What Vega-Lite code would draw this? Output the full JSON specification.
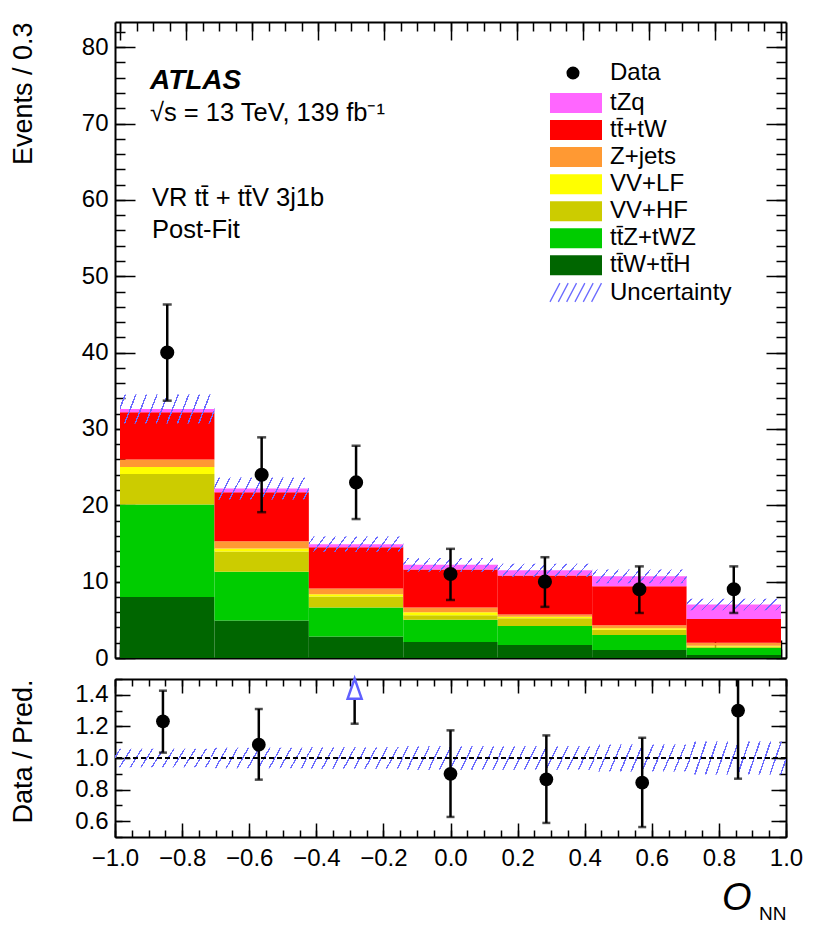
{
  "$schema": "https://vega.github.io/schema/vega-lite/v6.json",
  "padding": {"left": 8, "top": 21, "right": 10, "bottom": 5},
  "spacing": 3,
  "title": {
    "text": ["VR tt̄ + tt̄V 3j1b", "Post-Fit"],
    "anchor": "start", "frame": "group", "orient": "top", "offset": -222.35, "dx": 37,
    "font": "Liberation Sans", "fontSize": 25.5, "fontWeight": "normal", "fontStyle": "normal", "color": "black", "lineHeight": 32
  },
  "config": {
    "font": "Liberation Sans",
    "view": {"stroke": null},
    "axis": {
      "grid": false, "labelColor": "black", "titleColor": "black", "tickColor": "black",
      "domainColor": "black", "domainWidth": 2, "tickWidth": 1.5, "labelFont": "Liberation Sans",
      "titleFont": "Liberation Sans", "titleFontWeight": "normal", "zindex": 1,
      "labelFlush": false, "labelOverlap": false
    }
  },
  "datasets": {
    "stack": [
      {"lo": -1, "hi": -0.7143, "process": "tt̄W+tt̄H", "k": 0, "n": 8.0},
      {"lo": -1, "hi": -0.7143, "process": "tt̄Z+tWZ", "k": 1, "n": 12.1},
      {"lo": -1, "hi": -0.7143, "process": "VV+HF", "k": 2, "n": 4.0},
      {"lo": -1, "hi": -0.7143, "process": "VV+LF", "k": 3, "n": 0.9},
      {"lo": -1, "hi": -0.7143, "process": "Z+jets", "k": 4, "n": 1.0},
      {"lo": -1, "hi": -0.7143, "process": "tt̄+tW", "k": 5, "n": 6.2},
      {"lo": -1, "hi": -0.7143, "process": "tZq", "k": 6, "n": 0.4},
      {"lo": -0.7143, "hi": -0.4286, "process": "tt̄W+tt̄H", "k": 0, "n": 4.9},
      {"lo": -0.7143, "hi": -0.4286, "process": "tt̄Z+tWZ", "k": 1, "n": 6.4},
      {"lo": -0.7143, "hi": -0.4286, "process": "VV+HF", "k": 2, "n": 2.65},
      {"lo": -0.7143, "hi": -0.4286, "process": "VV+LF", "k": 3, "n": 0.4},
      {"lo": -0.7143, "hi": -0.4286, "process": "Z+jets", "k": 4, "n": 0.95},
      {"lo": -0.7143, "hi": -0.4286, "process": "tt̄+tW", "k": 5, "n": 6.4},
      {"lo": -0.7143, "hi": -0.4286, "process": "tZq", "k": 6, "n": 0.5},
      {"lo": -0.4286, "hi": -0.1429, "process": "tt̄W+tt̄H", "k": 0, "n": 2.8},
      {"lo": -0.4286, "hi": -0.1429, "process": "tt̄Z+tWZ", "k": 1, "n": 3.8},
      {"lo": -0.4286, "hi": -0.1429, "process": "VV+HF", "k": 2, "n": 1.45},
      {"lo": -0.4286, "hi": -0.1429, "process": "VV+LF", "k": 3, "n": 0.3},
      {"lo": -0.4286, "hi": -0.1429, "process": "Z+jets", "k": 4, "n": 0.75},
      {"lo": -0.4286, "hi": -0.1429, "process": "tt̄+tW", "k": 5, "n": 5.4},
      {"lo": -0.4286, "hi": -0.1429, "process": "tZq", "k": 6, "n": 0.4},
      {"lo": -0.1429, "hi": 0.1429, "process": "tt̄W+tt̄H", "k": 0, "n": 2.1},
      {"lo": -0.1429, "hi": 0.1429, "process": "tt̄Z+tWZ", "k": 1, "n": 2.9},
      {"lo": -0.1429, "hi": 0.1429, "process": "VV+HF", "k": 2, "n": 0.6},
      {"lo": -0.1429, "hi": 0.1429, "process": "VV+LF", "k": 3, "n": 0.4},
      {"lo": -0.1429, "hi": 0.1429, "process": "Z+jets", "k": 4, "n": 0.6},
      {"lo": -0.1429, "hi": 0.1429, "process": "tt̄+tW", "k": 5, "n": 5.0},
      {"lo": -0.1429, "hi": 0.1429, "process": "tZq", "k": 6, "n": 0.6},
      {"lo": 0.1429, "hi": 0.4286, "process": "tt̄W+tt̄H", "k": 0, "n": 1.7},
      {"lo": 0.1429, "hi": 0.4286, "process": "tt̄Z+tWZ", "k": 1, "n": 2.5},
      {"lo": 0.1429, "hi": 0.4286, "process": "VV+HF", "k": 2, "n": 1.0},
      {"lo": 0.1429, "hi": 0.4286, "process": "VV+LF", "k": 3, "n": 0.2},
      {"lo": 0.1429, "hi": 0.4286, "process": "Z+jets", "k": 4, "n": 0.3},
      {"lo": 0.1429, "hi": 0.4286, "process": "tt̄+tW", "k": 5, "n": 5.1},
      {"lo": 0.1429, "hi": 0.4286, "process": "tZq", "k": 6, "n": 0.7},
      {"lo": 0.4286, "hi": 0.7143, "process": "tt̄W+tt̄H", "k": 0, "n": 1.05},
      {"lo": 0.4286, "hi": 0.7143, "process": "tt̄Z+tWZ", "k": 1, "n": 1.95},
      {"lo": 0.4286, "hi": 0.7143, "process": "VV+HF", "k": 2, "n": 0.7},
      {"lo": 0.4286, "hi": 0.7143, "process": "VV+LF", "k": 3, "n": 0.2},
      {"lo": 0.4286, "hi": 0.7143, "process": "Z+jets", "k": 4, "n": 0.4},
      {"lo": 0.4286, "hi": 0.7143, "process": "tt̄+tW", "k": 5, "n": 5.1},
      {"lo": 0.4286, "hi": 0.7143, "process": "tZq", "k": 6, "n": 1.3},
      {"lo": 0.7143, "hi": 1, "process": "tt̄W+tt̄H", "k": 0, "n": 0.4},
      {"lo": 0.7143, "hi": 1, "process": "tt̄Z+tWZ", "k": 1, "n": 0.95},
      {"lo": 0.7143, "hi": 1, "process": "VV+HF", "k": 2, "n": 0.15},
      {"lo": 0.7143, "hi": 1, "process": "VV+LF", "k": 3, "n": 0.1},
      {"lo": 0.7143, "hi": 1, "process": "Z+jets", "k": 4, "n": 0.4},
      {"lo": 0.7143, "hi": 1, "process": "tt̄+tW", "k": 5, "n": 3.1},
      {"lo": 0.7143, "hi": 1, "process": "tZq", "k": 6, "n": 1.9}
    ],
    "bins": [
      {"lo": -1, "hi": -0.7143, "xc": -0.8571, "n": 40, "n_lo": 33.7, "n_hi": 46.3, "down": 30.7, "up": 34.5, "ratio": 1.232, "r_lo": 1.034, "r_hi": 1.426, "b_lo": 0.942, "b_hi": 1.058},
      {"lo": -0.7143, "hi": -0.4286, "xc": -0.5714, "n": 24, "n_lo": 19.1, "n_hi": 28.9, "down": 20.75, "up": 23.65, "ratio": 1.084, "r_lo": 0.863, "r_hi": 1.31, "b_lo": 0.935, "b_hi": 1.065},
      {"lo": -0.4286, "hi": -0.1429, "xc": -0.2857, "n": 23, "n_lo": 18.2, "n_hi": 27.8, "down": 13.9, "up": 15.9, "ratio": 1.544, "r_lo": 1.217, "r_hi": 1.866, "b_lo": 0.932, "b_hi": 1.068},
      {"lo": -0.1429, "hi": 0.1429, "xc": 0, "n": 11, "n_lo": 7.6, "n_hi": 14.3, "down": 11.3, "up": 13.1, "ratio": 0.9, "r_lo": 0.627, "r_hi": 1.175, "b_lo": 0.925, "b_hi": 1.075},
      {"lo": 0.1429, "hi": 0.4286, "xc": 0.2857, "n": 10, "n_lo": 6.7, "n_hi": 13.2, "down": 10.65, "up": 12.35, "ratio": 0.865, "r_lo": 0.589, "r_hi": 1.143, "b_lo": 0.925, "b_hi": 1.075},
      {"lo": 0.4286, "hi": 0.7143, "xc": 0.5714, "n": 9, "n_lo": 5.9, "n_hi": 12.0, "down": 9.8, "up": 11.6, "ratio": 0.844, "r_lo": 0.563, "r_hi": 1.128, "b_lo": 0.915, "b_hi": 1.085},
      {"lo": 0.7143, "hi": 1, "xc": 0.8571, "n": 9, "n_lo": 5.9, "n_hi": 12.0, "down": 6.25, "up": 7.75, "ratio": 1.3, "r_lo": 0.869, "r_hi": 1.72, "b_lo": 0.895, "b_hi": 1.105}
    ]
  },
  "vconcat": [
    {
      "width": 671,
      "height": 636,
      "title": {
        "text": "ATLAS",
        "subtitle": "√s = 13 TeV, 139 fb⁻¹",
        "anchor": "start", "frame": "group", "orient": "top", "offset": -105.5, "dx": 35,
        "font": "Liberation Sans", "fontSize": 28, "fontStyle": "italic", "fontWeight": "bold", "color": "black",
        "subtitleFont": "Liberation Sans", "subtitleFontSize": 25.5, "subtitleColor": "black",
        "subtitlePadding": 6.5
      },
      "layer": [
        {
          "data": {"name": "stack"},
          "mark": {"type": "bar", "orient": "vertical"},
          "encoding": {
            "x": {"field": "lo", "type": "quantitative", "scale": {"domain": [-1, 1], "nice": false},
              "axis": {"orient": "bottom", "title": null, "values": [-1, -0.8, -0.6, -0.4, -0.2, 0, 0.2, 0.4, 0.6, 0.8, 1], "labels": false, "tickSize": -18, "domain": true}},
            "x2": {"field": "hi"},
            "y": {"field": "n", "type": "quantitative", "stack": "zero", "scale": {"domain": [0, 83.3], "nice": false, "zero": false},
              "axis": {"orient": "left", "title": "Events / 0.3", "values": [0, 10, 20, 30, 40, 50, 60, 70, 80], "ticks": false, "domain": true,
                "labelFontSize": 24, "labelPadding": 7, "titleFontSize": 27, "titleAnchor": "end", "titleAlign": "right",
                "titleBaseline": "alphabetic", "titleX": -84, "titleY": 0}},
            "color": {"field": "process", "type": "nominal",
              "scale": {"domain": ["tZq", "tt̄+tW", "Z+jets", "VV+LF", "VV+HF", "tt̄Z+tWZ", "tt̄W+tt̄H"],
                "range": ["#ff66ff", "#ff0000", "#ff9933", "#ffff00", "#cccc00", "#00cc00", "#006600"]},
              "legend": {"orient": "none", "legendX": 447.5, "legendY": 67.5, "title": null,
                "symbolType": "M-1.926,-0.741H1.926V0.741H-1.926Z", "symbolSize": 729, "symbolStrokeWidth": 0, "symbolOpacity": 1,
                "labelFont": "Liberation Sans", "labelFontSize": 24, "labelColor": "black", "labelOffset": 20.5,
                "rowPadding": 1.05, "padding": 0, "labelLimit": 400}},
            "order": {"field": "k", "type": "quantitative"}
          }
        },
        {
          "data": {"name": "bins"},
          "mark": {"type": "rect", "strokeWidth": 0, "strokeOpacity": 0,
            "fill": {"gradient": "linear", "x1": 0, "y1": 0, "x2": 1.104, "y2": 0.1325, "stops": [
              {"offset": 0, "color": "rgba(255,255,255,0)"},
              {"offset": 0.043, "color": "rgba(255,255,255,0)"}, {"offset": 0.043, "color": "#6b6bff"}, {"offset": 0.057, "color": "#6b6bff"}, {"offset": 0.057, "color": "rgba(255,255,255,0)"},
              {"offset": 0.143, "color": "rgba(255,255,255,0)"}, {"offset": 0.143, "color": "#6b6bff"}, {"offset": 0.157, "color": "#6b6bff"}, {"offset": 0.157, "color": "rgba(255,255,255,0)"},
              {"offset": 0.243, "color": "rgba(255,255,255,0)"}, {"offset": 0.243, "color": "#6b6bff"}, {"offset": 0.257, "color": "#6b6bff"}, {"offset": 0.257, "color": "rgba(255,255,255,0)"},
              {"offset": 0.343, "color": "rgba(255,255,255,0)"}, {"offset": 0.343, "color": "#6b6bff"}, {"offset": 0.357, "color": "#6b6bff"}, {"offset": 0.357, "color": "rgba(255,255,255,0)"},
              {"offset": 0.443, "color": "rgba(255,255,255,0)"}, {"offset": 0.443, "color": "#6b6bff"}, {"offset": 0.457, "color": "#6b6bff"}, {"offset": 0.457, "color": "rgba(255,255,255,0)"},
              {"offset": 0.543, "color": "rgba(255,255,255,0)"}, {"offset": 0.543, "color": "#6b6bff"}, {"offset": 0.557, "color": "#6b6bff"}, {"offset": 0.557, "color": "rgba(255,255,255,0)"},
              {"offset": 0.643, "color": "rgba(255,255,255,0)"}, {"offset": 0.643, "color": "#6b6bff"}, {"offset": 0.657, "color": "#6b6bff"}, {"offset": 0.657, "color": "rgba(255,255,255,0)"},
              {"offset": 0.743, "color": "rgba(255,255,255,0)"}, {"offset": 0.743, "color": "#6b6bff"}, {"offset": 0.757, "color": "#6b6bff"}, {"offset": 0.757, "color": "rgba(255,255,255,0)"},
              {"offset": 0.843, "color": "rgba(255,255,255,0)"}, {"offset": 0.843, "color": "#6b6bff"}, {"offset": 0.857, "color": "#6b6bff"}, {"offset": 0.857, "color": "rgba(255,255,255,0)"},
              {"offset": 0.943, "color": "rgba(255,255,255,0)"}, {"offset": 0.943, "color": "#6b6bff"}, {"offset": 0.957, "color": "#6b6bff"}, {"offset": 0.957, "color": "rgba(255,255,255,0)"},
              {"offset": 1, "color": "rgba(255,255,255,0)"}
            ]}},
          "encoding": {
            "x": {"field": "lo", "type": "quantitative", "scale": {"domain": [-1, 1], "nice": false},
              "axis": {"orient": "bottom", "title": null, "values": [-1, -0.95, -0.9, -0.85, -0.8, -0.75, -0.7, -0.65, -0.6, -0.55, -0.5, -0.45, -0.4, -0.35, -0.3, -0.25, -0.2, -0.15, -0.1, -0.05, 0, 0.05, 0.1, 0.15, 0.2, 0.25, 0.3, 0.35, 0.4, 0.45, 0.5, 0.55, 0.6, 0.65, 0.7, 0.75, 0.8, 0.85, 0.9, 0.95, 1], "labels": false, "tickSize": -9, "domain": false}},
            "x2": {"field": "hi"},
            "y": {"field": "down", "type": "quantitative", "scale": {"domain": [0, 83.3], "nice": false, "zero": false},
              "axis": {"orient": "left", "title": null, "values": [0, 10, 20, 30, 40, 50, 60, 70, 80], "labels": false, "tickSize": -20, "domain": false}},
            "y2": {"field": "up"},
            "stroke": {"datum": "Uncertainty", "scale": {"range": ["#6b6bff"]},
              "legend": {"orient": "none", "legendX": 446.5, "legendY": 256, "title": null,
                "symbolType": "M-1.926,0.693L-1.194,-0.693M-1.31,0.693L-0.578,-0.693M-0.693,0.693L0.039,-0.693M-0.077,0.693L0.655,-0.693M0.539,0.693L1.271,-0.693M1.156,0.693L1.888,-0.693",
                "symbolSize": 729, "symbolStrokeWidth": 1.3, "symbolStrokeColor": "#6b6bff", "symbolFillColor": "transparent", "symbolOpacity": 1,
                "labelFont": "Liberation Sans", "labelFontSize": 24, "labelColor": "black", "labelOffset": 19.5,
                "padding": 0, "labelLimit": 400}}
          }
        },
        {
          "data": {"name": "bins"},
          "mark": {"type": "rule", "color": "black", "strokeWidth": 2.5},
          "encoding": {
            "x": {"field": "xc", "type": "quantitative", "scale": {"domain": [-1, 1], "nice": false},
              "axis": {"orient": "top", "title": null, "values": [-1, -0.8, -0.6, -0.4, -0.2, 0, 0.2, 0.4, 0.6, 0.8, 1], "labels": false, "tickSize": -18, "domain": true}},
            "y": {"field": "n_lo", "type": "quantitative", "scale": {"domain": [0, 83.3], "nice": false, "zero": false},
              "axis": {"orient": "left", "title": null, "values": [0, 2, 4, 6, 8, 10, 12, 14, 16, 18, 20, 22, 24, 26, 28, 30, 32, 34, 36, 38, 40, 42, 44, 46, 48, 50, 52, 54, 56, 58, 60, 62, 64, 66, 68, 70, 72, 74, 76, 78, 80, 82], "labels": false, "tickSize": -10, "domain": false}},
            "y2": {"field": "n_hi"}
          }
        },
        {
          "data": {"name": "bins"},
          "mark": {"type": "tick", "orient": "horizontal", "color": "black", "size": 9, "thickness": 2.5},
          "encoding": {
            "x": {"field": "xc", "type": "quantitative", "scale": {"domain": [-1, 1], "nice": false},
              "axis": {"orient": "top", "title": null, "values": [-1, -0.95, -0.9, -0.85, -0.8, -0.75, -0.7, -0.65, -0.6, -0.55, -0.5, -0.45, -0.4, -0.35, -0.3, -0.25, -0.2, -0.15, -0.1, -0.05, 0, 0.05, 0.1, 0.15, 0.2, 0.25, 0.3, 0.35, 0.4, 0.45, 0.5, 0.55, 0.6, 0.65, 0.7, 0.75, 0.8, 0.85, 0.9, 0.95, 1], "labels": false, "tickSize": -9, "domain": false}},
            "y": {"field": "n_hi", "type": "quantitative", "scale": {"domain": [0, 83.3], "nice": false, "zero": false},
              "axis": {"orient": "right", "title": null, "values": [0, 10, 20, 30, 40, 50, 60, 70, 80], "labels": false, "tickSize": -20, "domain": true}}
          }
        },
        {
          "data": {"name": "bins"},
          "mark": {"type": "tick", "orient": "horizontal", "color": "black", "size": 9, "thickness": 2.5},
          "encoding": {
            "x": {"field": "xc", "type": "quantitative", "scale": {"domain": [-1, 1], "nice": false}, "axis": null},
            "y": {"field": "n_lo", "type": "quantitative", "scale": {"domain": [0, 83.3], "nice": false, "zero": false},
              "axis": {"orient": "right", "title": null, "values": [0, 2, 4, 6, 8, 10, 12, 14, 16, 18, 20, 22, 24, 26, 28, 30, 32, 34, 36, 38, 40, 42, 44, 46, 48, 50, 52, 54, 56, 58, 60, 62, 64, 66, 68, 70, 72, 74, 76, 78, 80, 82], "labels": false, "tickSize": -10, "domain": false}}
          }
        },
        {
          "data": {"name": "bins"},
          "mark": {"type": "point", "filled": true, "color": "black", "opacity": 1, "size": 200},
          "encoding": {
            "x": {"field": "xc", "type": "quantitative", "scale": {"domain": [-1, 1], "nice": false}, "axis": null},
            "y": {"field": "n", "type": "quantitative", "scale": {"domain": [0, 83.3], "nice": false, "zero": false}, "axis": null},
            "shape": {"datum": "Data", "scale": {"range": ["circle"]},
              "legend": {"orient": "none", "legendX": 446, "legendY": 39, "title": null, "symbolSize": 170,
                "symbolFillColor": "black", "symbolStrokeWidth": 0, "labelFont": "Liberation Sans", "labelFontSize": 24,
                "labelColor": "black", "labelOffset": 25, "padding": 0, "labelLimit": 400}}
          }
        }
      ],
      "resolve": {"axis": {"x": "independent", "y": "independent"}}
    },
    {
      "width": 671,
      "height": 158,
      "data": {"name": "bins"},
      "layer": [
        {
          "mark": {"type": "rect", "strokeWidth": 0,
            "fill": {"gradient": "linear", "x1": 0, "y1": 0, "x2": 1.104, "y2": 0.1325, "stops": [
              {"offset": 0, "color": "rgba(255,255,255,0)"},
              {"offset": 0.043, "color": "rgba(255,255,255,0)"}, {"offset": 0.043, "color": "#6b6bff"}, {"offset": 0.057, "color": "#6b6bff"}, {"offset": 0.057, "color": "rgba(255,255,255,0)"},
              {"offset": 0.143, "color": "rgba(255,255,255,0)"}, {"offset": 0.143, "color": "#6b6bff"}, {"offset": 0.157, "color": "#6b6bff"}, {"offset": 0.157, "color": "rgba(255,255,255,0)"},
              {"offset": 0.243, "color": "rgba(255,255,255,0)"}, {"offset": 0.243, "color": "#6b6bff"}, {"offset": 0.257, "color": "#6b6bff"}, {"offset": 0.257, "color": "rgba(255,255,255,0)"},
              {"offset": 0.343, "color": "rgba(255,255,255,0)"}, {"offset": 0.343, "color": "#6b6bff"}, {"offset": 0.357, "color": "#6b6bff"}, {"offset": 0.357, "color": "rgba(255,255,255,0)"},
              {"offset": 0.443, "color": "rgba(255,255,255,0)"}, {"offset": 0.443, "color": "#6b6bff"}, {"offset": 0.457, "color": "#6b6bff"}, {"offset": 0.457, "color": "rgba(255,255,255,0)"},
              {"offset": 0.543, "color": "rgba(255,255,255,0)"}, {"offset": 0.543, "color": "#6b6bff"}, {"offset": 0.557, "color": "#6b6bff"}, {"offset": 0.557, "color": "rgba(255,255,255,0)"},
              {"offset": 0.643, "color": "rgba(255,255,255,0)"}, {"offset": 0.643, "color": "#6b6bff"}, {"offset": 0.657, "color": "#6b6bff"}, {"offset": 0.657, "color": "rgba(255,255,255,0)"},
              {"offset": 0.743, "color": "rgba(255,255,255,0)"}, {"offset": 0.743, "color": "#6b6bff"}, {"offset": 0.757, "color": "#6b6bff"}, {"offset": 0.757, "color": "rgba(255,255,255,0)"},
              {"offset": 0.843, "color": "rgba(255,255,255,0)"}, {"offset": 0.843, "color": "#6b6bff"}, {"offset": 0.857, "color": "#6b6bff"}, {"offset": 0.857, "color": "rgba(255,255,255,0)"},
              {"offset": 0.943, "color": "rgba(255,255,255,0)"}, {"offset": 0.943, "color": "#6b6bff"}, {"offset": 0.957, "color": "#6b6bff"}, {"offset": 0.957, "color": "rgba(255,255,255,0)"},
              {"offset": 1, "color": "rgba(255,255,255,0)"}
            ]}},
          "encoding": {
            "x": {"field": "lo", "type": "quantitative", "scale": {"domain": [-1, 1], "nice": false},
              "axis": {"orient": "bottom", "title": "O", "values": [-1, -0.8, -0.6, -0.4, -0.2, 0, 0.2, 0.4, 0.6, 0.8, 1], "format": ".1f",
                "ticks": false, "domain": true, "labelFontSize": 24, "labelPadding": 9,
                "titleFontSize": 38, "titleFontStyle": "italic", "titleAlign": "right", "titleAnchor": "end",
                "titleBaseline": "alphabetic", "titleX": 636, "titleY": 72}},
            "x2": {"field": "hi"},
            "y": {"field": "b_lo", "type": "quantitative", "scale": {"domain": [0.5, 1.5], "nice": false, "zero": false},
              "axis": {"orient": "left", "title": "Data / Pred.", "values": [0.6, 0.8, 1, 1.2, 1.4], "format": ".1f", "ticks": false, "domain": true,
                "labelFontSize": 24, "labelPadding": 7, "titleFontSize": 27, "titleAnchor": "end", "titleAlign": "right",
                "titleBaseline": "alphabetic", "titleX": -84, "titleY": 0}},
            "y2": {"field": "b_hi"}
          }
        },
        {
          "mark": {"type": "rule", "color": "black", "strokeWidth": 2, "strokeDash": [5, 3]},
          "encoding": {
            "y": {"datum": 1, "type": "quantitative", "scale": {"domain": [0.5, 1.5], "nice": false, "zero": false},
              "axis": {"orient": "left", "title": null, "values": [0.6, 0.8, 1, 1.2, 1.4], "labels": false, "tickSize": -15, "domain": false}}
          }
        },
        {
          "mark": {"type": "rule", "color": "black", "strokeWidth": 2.5, "clip": true},
          "encoding": {
            "x": {"field": "xc", "type": "quantitative", "scale": {"domain": [-1, 1], "nice": false},
              "axis": {"orient": "bottom", "title": null, "values": [-1, -0.8, -0.6, -0.4, -0.2, 0, 0.2, 0.4, 0.6, 0.8, 1], "labels": false, "tickSize": -14, "domain": false}},
            "y": {"field": "r_lo", "type": "quantitative", "scale": {"domain": [0.5, 1.5], "nice": false, "zero": false},
              "axis": {"orient": "left", "title": null, "values": [0.5, 0.6, 0.7, 0.8, 0.9, 1, 1.1, 1.2, 1.3, 1.4, 1.5], "labels": false, "tickSize": -7, "domain": false}},
            "y2": {"field": "r_hi"}
          }
        },
        {
          "mark": {"type": "tick", "orient": "horizontal", "color": "black", "size": 8, "thickness": 2.5, "clip": true},
          "encoding": {
            "x": {"field": "xc", "type": "quantitative", "scale": {"domain": [-1, 1], "nice": false},
              "axis": {"orient": "bottom", "title": null, "values": [-1, -0.95, -0.9, -0.85, -0.8, -0.75, -0.7, -0.65, -0.6, -0.55, -0.5, -0.45, -0.4, -0.35, -0.3, -0.25, -0.2, -0.15, -0.1, -0.05, 0, 0.05, 0.1, 0.15, 0.2, 0.25, 0.3, 0.35, 0.4, 0.45, 0.5, 0.55, 0.6, 0.65, 0.7, 0.75, 0.8, 0.85, 0.9, 0.95, 1], "labels": false, "tickSize": -7, "domain": false}},
            "y": {"field": "r_hi", "type": "quantitative", "scale": {"domain": [0.5, 1.5], "nice": false, "zero": false},
              "axis": {"orient": "right", "title": null, "values": [0.6, 0.8, 1, 1.2, 1.4], "labels": false, "tickSize": -15, "domain": true}}
          }
        },
        {
          "mark": {"type": "tick", "orient": "horizontal", "color": "black", "size": 8, "thickness": 2.5, "clip": true},
          "encoding": {
            "x": {"field": "xc", "type": "quantitative", "scale": {"domain": [-1, 1], "nice": false},
              "axis": {"orient": "top", "title": null, "values": [-1, -0.8, -0.6, -0.4, -0.2, 0, 0.2, 0.4, 0.6, 0.8, 1], "labels": false, "tickSize": -14, "domain": true}},
            "y": {"field": "r_lo", "type": "quantitative", "scale": {"domain": [0.5, 1.5], "nice": false, "zero": false},
              "axis": {"orient": "right", "title": null, "values": [0.5, 0.6, 0.7, 0.8, 0.9, 1, 1.1, 1.2, 1.3, 1.4, 1.5], "labels": false, "tickSize": -7, "domain": false}}
          }
        },
        {
          "transform": [{"filter": "datum.ratio > 1.5"}],
          "mark": {"type": "point", "shape": "M0,-1L0.7,1L-0.7,1Z", "size": 400, "filled": true, "fill": "white", "stroke": "#6060ff", "strokeWidth": 2.5, "opacity": 1},
          "encoding": {
            "x": {"field": "xc", "type": "quantitative", "scale": {"domain": [-1, 1], "nice": false},
              "axis": {"orient": "top", "title": null, "values": [-1, -0.95, -0.9, -0.85, -0.8, -0.75, -0.7, -0.65, -0.6, -0.55, -0.5, -0.45, -0.4, -0.35, -0.3, -0.25, -0.2, -0.15, -0.1, -0.05, 0, 0.05, 0.1, 0.15, 0.2, 0.25, 0.3, 0.35, 0.4, 0.45, 0.5, 0.55, 0.6, 0.65, 0.7, 0.75, 0.8, 0.85, 0.9, 0.95, 1], "labels": false, "tickSize": -7, "domain": false}},
            "y": {"datum": 1.439, "type": "quantitative", "scale": {"domain": [0.5, 1.5], "nice": false, "zero": false}, "axis": null}
          }
        },
        {
          "transform": [{"filter": "datum.ratio <= 1.5"}],
          "mark": {"type": "point", "filled": true, "color": "black", "opacity": 1, "size": 190},
          "encoding": {
            "x": {"field": "xc", "type": "quantitative", "scale": {"domain": [-1, 1], "nice": false},
              "axis": {"orient": "bottom", "title": "NN", "labels": false, "ticks": false, "domain": false,
                "titleFontSize": 19, "titleAlign": "right", "titleAnchor": "end", "titleBaseline": "alphabetic", "titleX": 671, "titleY": 82}},
            "y": {"field": "ratio", "type": "quantitative", "scale": {"domain": [0.5, 1.5], "nice": false, "zero": false}, "axis": null}
          }
        }
      ],
      "resolve": {"axis": {"x": "independent", "y": "independent"}}
    }
  ],
  "resolve": {"legend": {"color": "independent", "shape": "independent", "stroke": "independent"}}
}
